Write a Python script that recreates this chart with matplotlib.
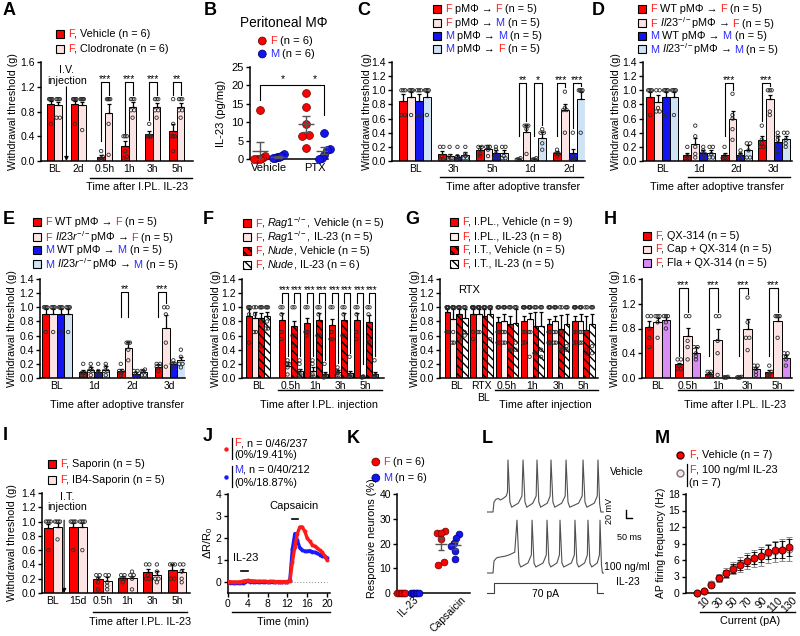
import numpy as np
import matplotlib
matplotlib.use('Agg')
import matplotlib.pyplot as plt
from matplotlib.lines import Line2D
from matplotlib.patches import Rectangle, Circle
from matplotlib.offsetbox import TextArea, HPacker, DrawingArea, AnnotationBbox

plt.rcParams['font.family'] = ['Liberation Sans', 'DejaVu Sans']
plt.rcParams['mathtext.fontset'] = 'custom'
plt.rcParams['mathtext.rm'] = 'Liberation Sans'
plt.rcParams['mathtext.it'] = 'Liberation Sans:italic'
plt.rcParams['mathtext.bf'] = 'Liberation Sans:bold'
plt.rcParams['axes.linewidth'] = 1.1
plt.rcParams['hatch.linewidth'] = 1.0

# ---------------- data ----------------
# A: clodronate
a_groups = ['BL', '2d', '0.5h', '1h', '3h', '5h']
a_veh = [0.92, 0.92, 0.06, 0.24, 0.43, 0.49]
a_veh_sem = [0.05, 0.05, 0.03, 0.08, 0.05, 0.10]
a_clo = [0.90, 0.90, 0.78, 0.88, 0.88, 0.88]
a_clo_sem = [0.06, 0.06, 0.14, 0.07, 0.06, 0.06]
a_veh_pts = [[1, 1, 1, 1, 1, 0.6], [1, 1, 1, 1, 1, 0.6], [0.16, 0.07, 0.04, 0.04, 0.02, 0.02],
             [0.4, 0.4, 0.4, 0.16, 0.07, 0.04], [0.6, 0.4, 0.4, 0.4, 0.4, 0.4], [1, 0.6, 0.4, 0.4, 0.4, 0.16]]
a_clo_pts = [[1, 1, 1, 1, 0.7, 0.7], [1, 1, 1, 1, 1, 0.5], [1, 1, 1, 1, 0.6, 0.1],
             [1, 1, 1, 0.82, 0.82, 0.7], [1, 1, 1, 0.82, 0.82, 0.7], [1, 1, 1, 0.82, 0.82, 0.7]]
a_sig = [(2, 0, 1, '***'), (3, 0, 1, '***'), (4, 0, 1, '***'), (5, 0, 1, '**')]

# B: IL-23 in peritoneal macrophages
b_groups = ['Vehicle', 'PTX']
b_f = [[13.2, 0.8, 0.3, 0.1, 0.1, 0.0], [17.8, 14.0, 9.5, 6.5, 6.2, 2.9]]
b_m = [[0.3, 0.5, 0.6, 1.3, 0.8, 0.2], [7.0, 2.8, 2.5, 1.0, 0.3, 0.1]]
b_f_mean = [2.3, 9.5]
b_f_sem = [2.2, 2.2]
b_m_mean = [0.6, 2.3]
b_m_sem = [0.2, 1.0]

# C: adoptive transfer
c_groups = ['BL', '3h', '5h', '1d', '2d']
c_means = [[0.85, 0.10, 0.15, 0.02, 0.11],
           [0.91, 0.07, 0.17, 0.41, 0.72],
           [0.85, 0.06, 0.11, 0.02, 0.11],
           [0.91, 0.09, 0.11, 0.33, 0.87]]
c_sems = [[0.10, 0.04, 0.06, 0.01, 0.03],
          [0.06, 0.03, 0.06, 0.10, 0.08],
          [0.10, 0.03, 0.05, 0.01, 0.06],
          [0.06, 0.04, 0.05, 0.08, 0.10]]
c_pts = [[[1, 1, 1, 0.65, 0.65], [0.2, 0.2, 0.07, 0.02, 0.02], [0.2, 0.2, 0.16, 0.1, 0.07], [0.04, 0.02, 0.02, 0.02, 0.02], [0.16, 0.1, 0.1, 0.1, 0.07]],
         [[1, 1, 1, 1, 0.65], [0.2, 0.07, 0.04, 0.02, 0.02], [0.2, 0.2, 0.2, 0.16, 0.07], [0.5, 0.5, 0.5, 0.45, 0.1], [0.98, 0.75, 0.72, 0.72, 0.4]],
         [[1, 1, 1, 0.65, 0.65], [0.2, 0.07, 0.04, 0.02, 0.02], [0.2, 0.16, 0.1, 0.04, 0.04], [0.04, 0.02, 0.02, 0.02, 0.02], [0.4, 0.07, 0.04, 0.02, 0.02]],
         [[1, 1, 1, 1, 0.65], [0.2, 0.1, 0.07, 0.04, 0.04], [0.2, 0.2, 0.07, 0.04, 0.04], [0.45, 0.4, 0.4, 0.25, 0.16], [1, 1, 1, 1, 0.4]]]
c_sig = [(3, 0, 1, '**'), (3, 2, 3, '*'), (4, 0, 1, '***'), (4, 2, 3, '***')]

# D: Il23-/- macrophages
d_groups = ['BL', '1d', '2d', '3d']
d_means = [[0.91, 0.08, 0.08, 0.29],
           [0.83, 0.24, 0.59, 0.87],
           [0.91, 0.12, 0.08, 0.27],
           [0.91, 0.12, 0.15, 0.31]]
d_sems = [[0.07, 0.03, 0.04, 0.06],
          [0.10, 0.09, 0.12, 0.07],
          [0.07, 0.03, 0.04, 0.08],
          [0.07, 0.04, 0.08, 0.05]]
d_pts = [[[1, 1, 1, 1, 0.65], [0.2, 0.07, 0.04, 0.04, 0.04], [0.2, 0.07, 0.04, 0.04, 0.04], [0.5, 0.3, 0.25, 0.2, 0.2]],
         [[1, 1, 0.75, 0.7, 0.7], [0.5, 0.35, 0.2, 0.1, 0.05], [0.95, 0.65, 0.6, 0.45, 0.3], [1, 1, 1, 0.7, 0.65]],
         [[1, 1, 1, 1, 0.65], [0.2, 0.15, 0.1, 0.1, 0.05], [0.15, 0.1, 0.07, 0.04, 0.04], [0.4, 0.35, 0.3, 0.2, 0.1]],
         [[1, 1, 1, 1, 0.65], [0.2, 0.2, 0.1, 0.05, 0.05], [0.25, 0.25, 0.15, 0.05, 0.05], [0.4, 0.4, 0.3, 0.25, 0.2]]]
d_sig = [(2, 0, 1, '***'), (3, 0, 1, '***')]

# E: Il23r-/- macrophages
e_groups = ['BL', '1d', '2d', '3d']
e_means = [[0.91, 0.08, 0.10, 0.16],
           [0.91, 0.12, 0.43, 0.71],
           [0.91, 0.09, 0.06, 0.20],
           [0.91, 0.12, 0.08, 0.25]]
e_sems = [[0.06, 0.03, 0.03, 0.04],
          [0.06, 0.04, 0.08, 0.18],
          [0.06, 0.03, 0.03, 0.03],
          [0.06, 0.05, 0.03, 0.05]]
e_pts = [[[1, 1, 1, 1, 0.65], [0.2, 0.07, 0.07, 0.04, 0.04], [0.2, 0.1, 0.1, 0.07, 0.04], [0.2, 0.2, 0.16, 0.16, 0.1]],
         [[1, 1, 1, 1, 0.65], [0.2, 0.14, 0.1, 0.1, 0.04], [0.5, 0.5, 0.5, 0.4, 0.25], [1, 1, 0.9, 0.5, 0.16]],
         [[1, 1, 1, 1, 0.65], [0.2, 0.1, 0.07, 0.04, 0.04], [0.1, 0.1, 0.07, 0.02, 0.02], [0.25, 0.2, 0.2, 0.2, 0.16]],
         [[1, 1, 1, 1, 0.65], [0.2, 0.16, 0.1, 0.1, 0.04], [0.12, 0.1, 0.1, 0.04, 0.04], [0.4, 0.3, 0.2, 0.2, 0.15]]]
e_sig = [(2, 0, 1, '**'), (3, 0, 1, '***')]

# F: Rag1-/- and nude mice
f_groups = ['BL', '0.5h', '1h', '3h', '5h']
f_means = [[0.88, 0.82, 0.78, 0.75, 0.82],
           [0.85, 0.17, 0.10, 0.08, 0.01],
           [0.85, 0.73, 0.82, 0.82, 0.79],
           [0.87, 0.10, 0.05, 0.07, 0.06]]
f_sems = [[0.09, 0.10, 0.07, 0.09, 0.10],
          [0.09, 0.06, 0.05, 0.03, 0.005],
          [0.07, 0.07, 0.10, 0.10, 0.10],
          [0.07, 0.03, 0.03, 0.03, 0.03]]
f_pts = [[[1, 1, 1, 0.9, 0.5], [1, 1, 0.9, 0.65, 0.55], [1, 1, 0.65, 0.65, 0.6], [1, 1, 0.65, 0.55, 0.55], [1, 1, 0.9, 0.65, 0.55]],
         [[1, 1, 0.9, 0.65, 0.65], [0.25, 0.2, 0.2, 0.15, 0.05], [0.25, 0.2, 0.05, 0.02, 0.02], [0.15, 0.1, 0.07, 0.04, 0.04], [0.02, 0.02, 0.01, 0.01, 0.01]],
         [[1, 1, 1, 0.8, 0.45], [1, 1, 0.6, 0.6, 0.45], [1, 1, 0.9, 0.6, 0.6], [1, 1, 0.9, 0.6, 0.6], [1, 1, 0.9, 0.55, 0.5]],
         [[1, 1, 1, 0.8, 0.7, 0.7], [0.25, 0.2, 0.1, 0.05, 0.04, 0.02], [0.2, 0.04, 0.02, 0.02, 0.01, 0.01], [0.3, 0.04, 0.02, 0.02, 0.02, 0.02], [0.25, 0.04, 0.02, 0.02, 0.02, 0.02]]]
f_sig = [(g, i, i + 1, '***') for g in range(1, 5) for i in (0, 2)]

# G: RTX
g_groups = ['BL', 'RTX', '0.5h', '1h', '3h', '5h']
g_means = [[0.94, 0.91, 0.79, 0.81, 0.76, 0.81],
           [0.84, 0.91, 0.80, 0.84, 0.80, 0.80],
           [0.91, 0.87, 0.76, 0.74, 0.69, 0.68],
           [0.85, 0.91, 0.78, 0.74, 0.77, 0.76]]
g_sems = [[0.04, 0.06, 0.07, 0.07, 0.07, 0.07],
          [0.13, 0.07, 0.10, 0.08, 0.08, 0.10],
          [0.07, 0.11, 0.12, 0.20, 0.20, 0.20],
          [0.13, 0.06, 0.20, 0.20, 0.13, 0.15]]
g_pts = [[[1, 1, 1, 1, 1, 1, 1, 0.65, 0.65], [1, 1, 1, 1, 1, 1, 1, 0.65, 0.55], [1, 1, 1, 1, 0.65, 0.65, 0.65, 0.5, 0.5],
          [1, 1, 1, 1, 1, 0.65, 0.65, 0.5, 0.5], [1, 1, 1, 1, 0.65, 0.65, 0.5, 0.5, 0.5], [1, 1, 1, 1, 1, 0.65, 0.65, 0.5, 0.5]],
         [[1, 1, 1, 1, 1, 0.65, 0.5, 0.5], [1, 1, 1, 1, 1, 1, 0.65, 0.65], [1, 1, 1, 1, 0.65, 0.65, 0.5, 0.5],
          [1, 1, 1, 1, 1, 0.65, 0.65, 0.3], [1, 1, 1, 1, 0.65, 0.65, 0.5, 0.5], [1, 1, 1, 1, 0.65, 0.65, 0.5, 0.5]],
         [[1, 1, 1, 1, 0.55], [1, 1, 1, 1, 0.4], [1, 1, 1, 0.4, 0.4], [1, 1, 1, 0.35, 0.35], [1, 1, 0.65, 0.4, 0.4], [1, 1, 0.65, 0.4, 0.35]],
         [[1, 1, 1, 0.65, 0.6], [1, 1, 1, 1, 0.55], [1, 1, 1, 0.4, 0.5], [1, 1, 1, 0.4, 0.3], [1, 1, 1, 0.45, 0.4], [1, 1, 1, 0.45, 0.35]]]

# H: QX-314
h_groups = ['BL', '0.5h', '1h', '3h', '5h']
h_means = [[0.82, 0.22, 0.06, 0.01, 0.09],
           [0.91, 0.68, 0.61, 0.80, 0.92],
           [0.93, 0.41, 0.01, 0.14, 0.33]]
h_sems = [[0.10, 0.03, 0.03, 0.005, 0.04],
          [0.06, 0.13, 0.18, 0.15, 0.06],
          [0.05, 0.09, 0.005, 0.04, 0.04]]
h_pts = [[[1, 1, 0.8, 0.65, 0.5], [0.3, 0.3, 0.2, 0.15, 0.15], [0.1, 0.1, 0.04, 0.02, 0.02], [0.02, 0.01, 0.01, 0.01, 0.01], [0.2, 0.1, 0.07, 0.04, 0.04]],
         [[1, 1, 1, 0.9, 0.65], [1, 1, 0.6, 0.5, 0.3], [1, 1, 0.6, 0.4, 0.05], [1.3, 0.9, 0.65, 0.65, 0.45], [1, 1, 1, 1, 0.65]],
         [[1, 1, 1, 0.9, 0.8], [0.5, 0.5, 0.4, 0.35, 0.3], [0.02, 0.01, 0.01, 0.01, 0.01], [0.2, 0.2, 0.15, 0.1, 0.05], [0.4, 0.4, 0.35, 0.3, 0.2]]]
h_sig = [(g, 0, 1, '***') for g in range(1, 5)]

# I: IB4-saporin
i_groups = ['BL', '15d', '0.5h', '1h', '3h', '5h']
i_means = [[0.91, 0.92, 0.20, 0.21, 0.29, 0.32],
           [0.93, 0.92, 0.17, 0.21, 0.25, 0.29]]
i_sems = [[0.06, 0.06, 0.03, 0.03, 0.05, 0.08],
          [0.05, 0.06, 0.05, 0.03, 0.06, 0.05]]
i_pts = [[[1, 1, 1, 1, 0.6], [1, 1, 1, 1, 0.6], [0.25, 0.25, 0.2, 0.15, 0.05], [0.25, 0.25, 0.2, 0.2, 0.15], [0.4, 0.4, 0.25, 0.2, 0.2], [0.4, 0.4, 0.4, 0.2, 0.2]],
         [[1, 1, 1, 1, 0.75], [1, 1, 1, 1, 0.6], [0.25, 0.25, 0.15, 0.1, 0.05], [0.3, 0.25, 0.25, 0.2, 0.05], [0.4, 0.3, 0.2, 0.2, 0.15], [0.4, 0.4, 0.3, 0.2, 0.15]]]

# J: calcium imaging traces
j_time = [0, 0.5, 1, 1.5, 2, 2.5, 3, 3.5, 4, 4.5, 5, 5.5, 6, 6.5, 7, 7.5, 8, 8.5, 9, 9.5, 10,
          10.5, 11, 11.5, 12, 12.5, 13, 13.5, 14, 14.5, 15, 15.5, 16, 16.5, 17, 17.5, 18, 18.5, 19, 19.5, 20]
j_f = [0.02, 0.01, 0.00, 0.00, 0.00, 0.01, 0.03, 0.06, 0.07, 0.06, 0.05, 0.04, 0.03, 0.03, 0.03, 0.03, 0.02,
       0.03, 0.03, 0.02, 0.02, 0.02, 0.02, 0.02, 0.02,
       0.05, 0.90, 1.60, 2.20, 2.50, 2.50, 2.30, 2.00, 1.85, 1.70, 1.62, 1.55, 1.45, 1.35, 1.20, 1.00]
j_m = [-0.02, -0.03, -0.04, -0.05, -0.06, -0.05, -0.03, 0.02, 0.03, 0.02, 0.01, 0.00, 0.00, 0.00, 0.00, 0.00,
       0.00, 0.00, 0.00, 0.00, 0.00, 0.00, 0.00, 0.00, 0.00,
       0.10, 1.50, 2.20, 1.90, 1.55, 1.45, 1.40, 1.40, 1.42, 1.38, 1.35, 1.30, 1.25, 1.20, 1.15, 1.10]

# K: responsive neurons
k_groups = ['IL-23', 'Capsaicin']
k_f = [[0, 0, 0, 0, 0, 0], [25.2, 24.4, 24.4, 21.7, 11.3, 12.7]]
k_m = [[0, 0, 0, 0, 0, 0], [23.8, 22.1, 20.1, 19.0, 16.8, 13.7]]
k_f_mean = [0, 19.9]
k_f_sem = [0, 2.5]
k_m_mean = [0, 19.3]
k_m_sem = [0, 1.5]

# L: example traces (ms, mV) and current step (ms, pA)
l_veh_t = [0, 50, 58, 75, 95, 110, 130, 160, 170, 174, 190, 205, 260, 290, 299, 315, 330, 380, 408, 415, 430, 445,
           500, 524, 531, 547, 562, 620, 649, 656, 672, 687, 760, 790, 797, 813, 828, 890, 915, 921, 935, 945, 965]
l_veh_v = [-60, -60, -35, -28, -26, -30, -27, -20, -10, 70, -35, -48, -38, -20, 70, -35, -48, -38, -20, 70, -35, -48,
           -38, -20, 70, -35, -48, -38, -20, 70, -35, -48, -38, -20, 70, -35, -48, -38, -20, 70, -40, -60, -60]
l_il_t = [0, 50, 58, 80, 110, 150, 190, 230, 249, 265, 280, 340, 368, 374, 390, 405, 465, 492, 498, 514, 529, 580,
          601, 606, 622, 637, 700, 725, 730, 746, 761, 810, 833, 838, 854, 869, 915, 933, 938, 950, 958, 965]
l_il_v = [-60, -60, -30, -22, -20, -18, -14, -8, 72, -35, -45, -35, -15, 72, -35, -45, -35, -15, 72, -35, -45, -35,
          -15, 72, -35, -45, -35, -15, 72, -35, -45, -35, -15, 72, -35, -45, -35, -15, 72, -40, -60, -60]
l_step_t = [0, 58, 58, 912, 912, 965]
l_step_i = [0, 0, 70, 70, 0, 0]

# M: AP firing frequency
m_current = [0, 10, 20, 30, 40, 50, 60, 70, 80, 90, 100, 110, 120, 130]
m_veh = [0, 0.3, 1.5, 2.7, 3.6, 4.4, 5.1, 5.9, 6.4, 6.8, 7.4, 7.8, 7.9, 8.3]
m_veh_sem = [0, 0.15, 0.3, 0.5, 0.6, 0.8, 0.9, 1.0, 1.1, 1.2, 1.3, 1.4, 1.5, 1.6]
m_il = [0, 0.4, 1.6, 2.7, 3.7, 4.5, 5.2, 5.8, 6.3, 6.7, 7.2, 7.6, 7.8, 8.0]
m_il_sem = [0, 0.3, 0.5, 0.7, 0.9, 1.1, 1.3, 1.5, 1.6, 1.7, 1.8, 1.9, 2.0, 2.1]

# ---------------- styling ----------------
RED = '#ff0000'
PINK = '#fde4e4'
BLUE = '#1414f0'
LBLUE = '#cfe3f5'
VIOLET = '#d98cf2'
TR = '#ff1f1f'
TB = '#2a2aff'
HATCH = '\\\\\\\\'

W, H = 800, 636
fig = plt.figure(figsize=(8, 6.36), dpi=100)


def add_ax(l, t, r, b):
    return fig.add_axes([l / W, 1 - b / H, (r - l) / W, (b - t) / H])


def ftext(x, y, s, **kw):
    return fig.text(x / W, 1 - y / H, s, **kw)


def fline(xs, ys, **kw):
    kw.setdefault('color', 'k')
    kw.setdefault('lw', 1.0)
    fig.add_artist(Line2D([x / W for x in xs], [1 - y / H for y in ys], **kw))


def style(ax):
    for s in ['top', 'right']:
        ax.spines[s].set_visible(False)
    ax.tick_params(axis='both', labelsize=7.5, width=1.0, length=3, pad=1.5)


def spread(vals, center, width, dx, dy):
    vals = np.asarray(vals, float)
    xs = np.full(len(vals), float(center))
    order = np.argsort(vals)
    clusters = [[order[0]]]
    for i in order[1:]:
        if vals[i] - vals[clusters[-1][-1]] < dy:
            clusters[-1].append(i)
        else:
            clusters.append([i])
    for c in clusters:
        k = len(c)
        if k > 1:
            step = min(dx, max(width - dx, 0) / (k - 1))
            for j, i in enumerate(c):
                xs[i] = center + (j - (k - 1) / 2) * step
    return xs


def bar_panel(box, groups, pos, xlim, ylim, ystep, means, sems, pts, styles, bw, ylx):
    ax = add_ax(*box)
    l, t, r, b = box
    pxx = (r - l) / (xlim[1] - xlim[0])
    pxy = (b - t) / (ylim[1] - ylim[0])
    pos = np.asarray(pos, float)
    n = len(means)
    offs = (np.arange(n) - (n - 1) / 2) * bw
    for s in range(n):
        fc, hatch = styles[s]
        xs = pos + offs[s]
        ax.bar(xs, means[s], bw, color=fc, edgecolor='k', linewidth=0.7, hatch=hatch, zorder=2)
        ax.errorbar(xs, means[s], yerr=[np.zeros(len(xs)), sems[s]], fmt='none', ecolor='k',
                    elinewidth=0.9, capsize=1.6, capthick=0.9, zorder=3)
        for g in range(len(xs)):
            px_ = spread(pts[s][g], xs[g], bw * 0.9, 3.4 / pxx, 2.0 / pxy)
            ax.scatter(px_, pts[s][g], s=6, facecolors='none', edgecolors='#2a2a2a',
                       linewidths=0.6, zorder=4, clip_on=False)
    ax.set_xlim(xlim)
    ax.set_ylim(ylim)
    ticks = np.arange(0, ylim[1] + 1e-9, ystep)
    ax.set_yticks(ticks)
    ax.set_yticklabels(['%.1f' % v for v in ticks])
    ax.set_xticks(pos)
    ax.set_xticklabels(groups)
    style(ax)
    ax.tick_params(axis='x', length=0, pad=2.5)
    ftext(ylx, (t + b) / 2, 'Withdrawal threshold (g)', rotation=90, ha='center', va='center', fontsize=7.7)
    return ax, pos, offs


def brackets(ax, pos, offs, means, sems, pts, specs, top, lmax, gap=0.06, fs=7.5):
    for g, i, j, txt in specs:
        xi = pos[g] + offs[i]
        xj = pos[g] + offs[j]

        def leg(s):
            hi = max(means[s][g] + sems[s][g], max(pts[s][g]))
            return max(hi + gap, top - lmax)
        ax.plot([xi, xi, xj, xj], [leg(i), top, top, leg(j)], color='k', lw=0.8, zorder=5, clip_on=False)
        ax.annotate(txt, ((xi + xj) / 2, top), xytext=(0, -1.5), textcoords='offset points',
                    ha='center', va='bottom', fontsize=fs)


def text_row(parts, fs):
    # leading spaces are turned into fixed gaps so the pieces join cleanly
    kids = []
    for s, c in parts:
        if s.startswith(' '):
            kids.append(DrawingArea(0.3 * fs, 0.1, 0, 0))
            s = s.lstrip(' ')
        kids.append(TextArea(s, textprops=dict(color=c, fontsize=fs)))
    return HPacker(children=kids, sep=0, pad=0, align='baseline')


def ctext(x, yc, parts, fs=7.8):
    fig.add_artist(AnnotationBbox(text_row(parts, fs), (x, H - yc), xycoords='figure pixels',
                                  box_alignment=(0, 0.5), frameon=False, pad=0))


def legend_rows(x, ys, rows, fs=7.8):
    for yc, (sym, parts) in zip(ys, rows):
        da = DrawingArea(6.2, 6.2, 0, 0)
        if sym[0] == 'sq':
            da.add_artist(Rectangle((0.35, 0.35), 5.5, 5.5, facecolor=sym[1], edgecolor='k',
                                    linewidth=0.8, hatch=sym[2]))
        else:
            da.add_artist(Circle((3.1, 3.1), 2.8, facecolor=sym[1], edgecolor=sym[2], linewidth=0.6))
        row = HPacker(children=[da, text_row(parts, fs)], sep=2.2, pad=0, align='center')
        fig.add_artist(AnnotationBbox(row, (x, H - yc), xycoords='figure pixels', box_alignment=(0, 0.5),
                                      frameon=False, pad=0))


def letter(x, y, s):
    ftext(x, y, s, fontsize=13, fontweight='bold', ha='left', va='top')


def xtitle(x, y, s):
    ftext(x, y, s, fontsize=7.8, ha='center', va='center')


four = [(RED, None), (PINK, None), (BLUE, None), (LBLUE, None)]

# ---------------- A ----------------
boxA = (41, 62, 193, 161)
axA, pA, oA = bar_panel(boxA, a_groups, [0, 1, 2.1, 3.1, 4.1, 5.1], (-0.56, 5.77), (0, 1.6), 0.4,
                        [a_veh, a_clo], [a_veh_sem, a_clo_sem], [a_veh_pts, a_clo_pts],
                        [(RED, None), (PINK, None)], 0.31, 13)
brackets(axA, pA, oA, [a_veh, a_clo], [a_veh_sem, a_clo_sem], [a_veh_pts, a_clo_pts], a_sig, 1.28, 0.95)
axA.annotate('', xy=(0.5, 0.0), xytext=(0.5, 1.2),
             arrowprops=dict(arrowstyle='-|>', lw=0.8, color='k', mutation_scale=6, shrinkA=0, shrinkB=0))
axA.text(0.52, 1.38, 'I.V.\ninjection', ha='center', va='center', fontsize=7.7, linespacing=1.05)
fline([90, 192], [178, 178])
xtitle(137, 187, 'Time after I.PL. IL-23')
legend_rows(56, [34, 49], [(('sq', RED, None), [('F', TR), (', Vehicle (n = 6)', 'k')]),
                           (('sq', PINK, None), [('F', TR), (', Clodronate (n = 6)', 'k')])])
letter(3, 2, 'A')

# ---------------- B ----------------
boxB = (250, 67, 328, 159)
axB = add_ax(*boxB)
bxl, byl = (-0.41, 1.28), (0, 25)
pxxB = (boxB[2] - boxB[0]) / (bxl[1] - bxl[0])
pxyB = (boxB[3] - boxB[1]) / (byl[1] - byl[0])
for g in range(2):
    for vals, mean, sem, off, fc, ec in [(b_f[g], b_f_mean[g], b_f_sem[g], -0.2, RED, '#700000'),
                                         (b_m[g], b_m_mean[g], b_m_sem[g], 0.2, BLUE, '#000070')]:
        c = g + off
        xs = spread(vals, c, 18 / pxxB, 7 / pxxB, 6 / pxyB)
        axB.scatter(xs, vals, s=32, color=fc, edgecolors=ec, linewidths=0.5, zorder=3, clip_on=False)
        axB.hlines(mean, c - 8 / pxxB, c + 8 / pxxB, color='#555555', lw=1.0, zorder=4)
        axB.errorbar(c, mean, yerr=sem, fmt='none', ecolor='#555555', elinewidth=1.0, capsize=3, zorder=4)
axB.plot([-0.2, -0.2, 1.2, 1.2], [16, 20.1, 20.1, 12], color='k', lw=0.8, clip_on=False)
axB.text(0.3, 20.3, '*', ha='center', va='bottom', fontsize=7.5)
axB.text(1.0, 20.3, '*', ha='center', va='bottom', fontsize=7.5)
axB.set_xlim(bxl)
axB.set_ylim(byl)
axB.set_yticks([0, 5, 10, 15, 20, 25])
axB.set_xticks([0, 1])
axB.set_xticklabels(b_groups)
style(axB)
axB.tick_params(axis='x', length=0, pad=3)
axB.tick_params(axis='both', labelsize=8)
ftext(221, 113, 'IL-23 (pg/mg)', rotation=90, ha='center', va='center', fontsize=8)
ftext(284, 23, 'Peritoneal MΦ', ha='center', va='center', fontsize=9.8)
legend_rows(258, [41, 54], [(('dot', RED, '#700000'), [('F', TR), (' (n = 6)', 'k')]),
                            (('dot', BLUE, '#000070'), [('M', TB), (' (n = 6)', 'k')])], fs=8)
letter(204, 2, 'B')

# ---------------- C ----------------
boxC = (392, 62, 585, 161)
axC, pC, oC = bar_panel(boxC, c_groups, [0, 1, 2, 3, 4], (-0.6, 4.42), (0, 1.4), 0.2,
                        c_means, c_sems, c_pts, four, 0.205, 367)
brackets(axC, pC, oC, c_means, c_sems, c_pts, c_sig, 1.1, 0.75)
fline([440, 583], [177, 177])
xtitle(513, 187, 'Time after adoptive transfer')
legend_rows(433, [9.3, 22.7, 36, 49.3], [
    (('sq', RED, None), [('F', TR), (' pMΦ →', 'k'), (' F', TR), (' (n = 5)', 'k')]),
    (('sq', PINK, None), [('F', TR), (' pMΦ →', 'k'), (' M', TB), (' (n = 5)', 'k')]),
    (('sq', BLUE, None), [('M', TB), (' pMΦ →', 'k'), (' M', TB), (' (n = 5)', 'k')]),
    (('sq', LBLUE, None), [('M', TB), (' pMΦ →', 'k'), (' F', TR), (' (n = 5)', 'k')])])
letter(357, 2, 'C')

# ---------------- D ----------------
boxD = (643, 62, 792, 161)
axD, pD, oD = bar_panel(boxD, d_groups, [0, 1, 2, 3], (-0.51, 3.49), (0, 1.4), 0.2,
                        d_means, d_sems, d_pts, four, 0.214, 616)
brackets(axD, pD, oD, d_means, d_sems, d_pts, d_sig, 1.1, 0.75)
fline([688, 790], [177, 177])
xtitle(717, 187, 'Time after adoptive transfer')
legend_rows(638, [9.3, 22.7, 36, 49.3], [
    (('sq', RED, None), [('F', TR), (' WT pMΦ →', 'k'), (' F', TR), (' (n = 5)', 'k')]),
    (('sq', PINK, None), [('F', TR), (r' $\mathit{Il23}^{-/-}$pMΦ →', 'k'), (' F', TR), (' (n = 5)', 'k')]),
    (('sq', BLUE, None), [('M', TB), (' WT pMΦ →', 'k'), (' M', TB), (' (n = 5)', 'k')]),
    (('sq', LBLUE, None), [('M', TB), (r' $\mathit{Il23}^{-/-}$pMΦ →', 'k'), (' M', TB), (' (n = 5)', 'k')])])
letter(592, 2, 'D')

# ---------------- E ----------------
boxE = (40, 279, 185, 378)
axE, pE, oE = bar_panel(boxE, e_groups, [0, 1, 2, 3], (-0.45, 3.41), (0, 1.4), 0.2,
                        e_means, e_sems, e_pts, four, 0.2, 12)
brackets(axE, pE, oE, e_means, e_sems, e_pts, e_sig, 1.22, 0.36)
xtitle(117, 405, 'Time after adoptive transfer')
legend_rows(33, [222.3, 236.7, 250, 264.3], [
    (('sq', RED, None), [('F', TR), (' WT pMΦ →', 'k'), (' F', TR), (' (n = 5)', 'k')]),
    (('sq', PINK, None), [('F', TR), (r' $\mathit{Il23r}^{-/-}$pMΦ →', 'k'), (' F', TR), (' (n = 5)', 'k')]),
    (('sq', BLUE, None), [('M', TB), (' WT pMΦ →', 'k'), (' M', TB), (' (n = 5)', 'k')]),
    (('sq', LBLUE, None), [('M', TB), (r' $\mathit{Il23r}^{-/-}$pMΦ →', 'k'), (' M', TB), (' (n = 5)', 'k')])])
letter(3, 211, 'E')

# ---------------- F ----------------
boxF = (242, 279, 384, 378)
stF = [(RED, None), (PINK, None), (RED, HATCH), ('white', HATCH)]
axF, pF, oF = bar_panel(boxF, f_groups, [0, 1.3, 2.3, 3.3, 4.3], (-0.64, 5.04), (0, 1.4), 0.2,
                        f_means, f_sems, f_pts, stF, 0.24, 216)
brackets(axF, pF, oF, f_means, f_sems, f_pts, f_sig, 1.2, 1.0, fs=7)
fline([278, 382], [390, 390])
xtitle(319, 405, 'Time after I.PL. injection')
legend_rows(243, [223, 237, 251, 265], [
    (('sq', RED, None), [('F', TR), (r', $\mathit{Rag1}^{-/-}$, Vehicle (n = 5)', 'k')]),
    (('sq', PINK, None), [('F', TR), (r', $\mathit{Rag1}^{-/-}$, IL-23 (n = 5)', 'k')]),
    (('sq', RED, HATCH), [('F', TR), (r', $\mathit{Nude}$, Vehicle (n = 5)', 'k')]),
    (('sq', 'white', HATCH), [('F', TR), (r', $\mathit{Nude}$, IL-23 (n = 6)', 'k')])])
letter(203, 211, 'F')

# ---------------- G ----------------
boxG = (440, 279, 598, 378)
stG = [(RED, None), ('#fff0f0', None), (RED, HATCH), ('white', HATCH)]
axG, pG, oG = bar_panel(boxG, g_groups, [0, 1, 2, 3, 4, 5], (-0.63, 5.57), (0, 1.4), 0.2,
                        g_means, g_sems, g_pts, stG, 0.225, 415)
axG.text(0.5, 1.25, 'RTX', ha='center', va='center', fontsize=8)
ftext(483, 398, 'BL', ha='center', va='center', fontsize=7.5)
fline([495, 598], [390, 390])
xtitle(545, 405, 'Time after injection')
legend_rows(450, [222, 236.5, 250, 264], [
    (('sq', RED, None), [('F', TR), (', I.PL., Vehicle (n = 9)', 'k')]),
    (('sq', '#fff0f0', None), [('F', TR), (', I.PL., IL-23 (n = 8)', 'k')]),
    (('sq', RED, HATCH), [('F', TR), (', I.T., Vehicle (n = 5)', 'k')]),
    (('sq', 'white', HATCH), [('F', TR), (', I.T., IL-23 (n = 5)', 'k')])])
letter(405, 211, 'G')

# ---------------- H ----------------
boxH = (642, 279, 792, 378)
stH = [(RED, None), (PINK, None), (VIOLET, None)]
axH, pH, oH = bar_panel(boxH, h_groups, [0, 1, 2, 3, 4], (-0.52, 4.48), (0, 1.6), 0.4,
                        h_means, h_sems, h_pts, stH, 0.277, 615)
brackets(axH, pH, oH, h_means, h_sems, h_pts, h_sig, 1.45, 1.1)
fline([678, 793], [390, 390])
xtitle(735, 405, 'Time after I.PL. IL-23')
legend_rows(643, [236, 249.5, 263], [
    (('sq', RED, None), [('F', TR), (', QX-314 (n = 5)', 'k')]),
    (('sq', PINK, None), [('F', TR), (', Cap + QX-314 (n = 5)', 'k')]),
    (('sq', VIOLET, None), [('F', TR), (', Fla + QX-314 (n = 5)', 'k')])])
letter(604, 211, 'H')

# ---------------- I ----------------
boxI = (42, 493, 190, 593)
axI, pI, oI = bar_panel(boxI, i_groups, [0, 1, 2, 3, 4, 5], (-0.44, 5.52), (0, 1.4), 0.2,
                        i_means, i_sems, i_pts, [(RED, None), (PINK, None)], 0.37, 12)
axI.annotate('', xy=(0.45, 0.0), xytext=(0.45, 1.02),
             arrowprops=dict(arrowstyle='-|>', lw=0.8, color='k', mutation_scale=6, shrinkA=0, shrinkB=0))
axI.text(0.56, 1.27, 'I.T.\ninjection', ha='center', va='center', fontsize=7.7, linespacing=1.05)
fline([93, 187], [612, 612])
xtitle(140, 622, 'Time after I.PL. IL-23')
legend_rows(48, [464, 480], [(('sq', RED, None), [('F', TR), (', Saporin (n = 5)', 'k')]),
                             (('sq', PINK, None), [('F', TR), (', IB4-Saporin (n = 5)', 'k')])])
letter(3, 427, 'I')

# ---------------- J ----------------
boxJ = (228, 494, 330, 593)
axJ = add_ax(*boxJ)
axJ.plot(j_time, j_m, color='#1a1aff', lw=2.4, marker='o', ms=1.8, zorder=2)
axJ.plot(j_time, j_f, color='#ff1a1a', lw=2.4, marker='o', ms=1.8, zorder=3)
axJ.plot([12.8, 20], [0, 0], ls=':', color='#999999', lw=0.8, zorder=1)
axJ.plot([2.6, 4.0], [0.5, 0.5], color='k', lw=1.2)
axJ.text(3.6, 1.1, 'IL-23', ha='center', va='center', fontsize=8)
axJ.plot([12.9, 14.1], [2.88, 2.88], color='k', lw=1.2)
axJ.text(13.3, 3.45, 'Capsaicin', ha='center', va='center', fontsize=8)
axJ.set_xlim(0, 20.6)
axJ.set_ylim(-0.5, 4)
axJ.set_xticks([0, 4, 8, 12, 16, 20])
axJ.set_yticks([0, 1, 2, 3, 4])
style(axJ)
fline([232, 330], [612, 612])
xtitle(283, 622, 'Time (min)')
ftext(208, 543, r'$\Delta$R/R$_0$', rotation=90, ha='center', va='center', fontsize=8)
fig.add_artist(Line2D([226 / W], [1 - 449 / H], marker='o', ms=2.2, color='#ff1a1a', ls='none'))
fig.add_artist(Line2D([226 / W], [1 - 477 / H], marker='o', ms=2.2, color='#1a1aff', ls='none'))
fline([232, 232], [438, 459], lw=0.9)
fline([232, 232], [466, 487], lw=0.9)
ctext(234, 443, [('F', TR), (', n = 0/46/237', 'k')])
ctext(234, 455.5, [('(0%/19.41%)', 'k')])
ctext(234, 470, [('M', TB), (', n = 0/40/212', 'k')])
ctext(234, 482.5, [('(0%/18.87%)', 'k')])
letter(203, 428, 'J')

# ---------------- K ----------------
boxK = (397, 494, 470, 593)
axK = add_ax(*boxK)
kxl, kyl = (-0.28, 1.55), (0, 40)
pxxK = (boxK[2] - boxK[0]) / (kxl[1] - kxl[0])
pxyK = (boxK[3] - boxK[1]) / (kyl[1] - kyl[0])
for g in range(2):
    for vals, mean, sem, off, fc, ec in [(k_f[g], k_f_mean[g], k_f_sem[g], -0.17, RED, '#700000'),
                                         (k_m[g], k_m_mean[g], k_m_sem[g], 0.17, BLUE, '#000070')]:
        c = g + off
        xs = spread(vals, c, 14 / pxxK, 6 / pxxK, 5 / pxyK)
        axK.scatter(xs, vals, s=24, color=fc, edgecolors=ec, linewidths=0.5, zorder=3, clip_on=False)
        if mean > 0:
            axK.hlines(mean, c - 6 / pxxK, c + 6 / pxxK, color='#555555', lw=1.0, zorder=4)
            axK.errorbar(c, mean, yerr=sem, fmt='none', ecolor='#555555', elinewidth=1.0, capsize=2.5, zorder=4)
axK.set_xlim(kxl)
axK.set_ylim(kyl)
axK.set_yticks([0, 10, 20, 30, 40])
axK.set_xticks([0, 1])
axK.set_xticklabels(k_groups, rotation=45, ha='center')
style(axK)
axK.tick_params(axis='x', length=0, pad=1)
ftext(372, 538, 'Responsive neurons (%)', rotation=90, ha='center', va='center', fontsize=7.8)
legend_rows(371.5, [462, 478], [(('dot', RED, '#700000'), [('F', TR), (' (n = 6)', 'k')]),
                                (('dot', BLUE, '#000070'), [('M', TB), (' (n = 6)', 'k')])])
letter(347, 430, 'K')

# ---------------- L ----------------
lax1 = add_ax(487, 455, 604, 520)
lax1.plot(l_veh_t, l_veh_v, color='#505050', lw=0.8)
lax1.set_xlim(0, 971)
lax1.set_ylim(-80, 82.5)
lax2 = add_ax(487, 515, 604, 580)
lax2.plot(l_il_t, l_il_v, color='#505050', lw=0.8)
lax2.set_xlim(0, 971)
lax2.set_ylim(-77.5, 85)
lax3 = add_ax(487, 578, 604, 598)
lax3.plot(l_step_t, l_step_i, color='#404040', lw=0.8)
lax3.set_xlim(0, 971)
lax3.set_ylim(-35, 105)
for a in (lax1, lax2, lax3):
    a.axis('off')
ftext(545, 594, '70 pA', ha='center', va='center', fontsize=7.5)
ftext(627, 472, 'Vehicle', ha='center', va='center', fontsize=7.5)
ftext(627, 567, '100 ng/ml', ha='center', va='center', fontsize=7.5)
ftext(628, 582, 'IL-23', ha='center', va='center', fontsize=7.5)
fline([626, 626, 632], [510, 518, 518], lw=1.0)
ftext(609, 511, '20 mV', rotation=90, ha='center', va='center', fontsize=6.5)
ftext(629, 537, '50 ms', ha='center', va='center', fontsize=6.5)
letter(482, 430, 'L')

# ---------------- M ----------------
boxM = (686, 494, 795, 593)
axM = add_ax(*boxM)
axM.errorbar(m_current, m_il, yerr=m_il_sem, fmt='o', ms=5, mfc=PINK, mec='#777777', mew=0.7,
             ecolor='#888888', elinewidth=0.9, capsize=2.2, capthick=0.9, zorder=2, clip_on=False)
axM.errorbar(m_current, m_veh, yerr=m_veh_sem, fmt='o', ms=5, mfc=RED, mec='#400000', mew=0.6,
             ecolor='k', elinewidth=0.9, capsize=2.2, capthick=0.9, zorder=3, clip_on=False)
axM.set_xlim(-16, 138)
axM.set_ylim(0, 18)
axM.set_yticks([0, 3, 6, 9, 12, 15, 18])
axM.set_xticks([10, 30, 50, 70, 90, 110, 130])
axM.set_xticklabels(['10', '30', '50', '70', '90', '110', '130'], rotation=45, ha='center')
style(axM)
axM.tick_params(axis='x', length=0, pad=1.5)
fline([700, 795], [612, 612])
xtitle(750, 621, 'Current (pA)')
ftext(661, 543, 'AP firing frequency (Hz)', rotation=90, ha='center', va='center', fontsize=7.5)
fig.add_artist(Line2D([680 / W], [1 - 455 / H], marker='o', ms=5, mfc=RED, mec='#400000', ls='none'))
fig.add_artist(Line2D([680 / W], [1 - 473 / H], marker='o', ms=5, mfc=PINK, mec='#777777', ls='none'))
fline([687, 687], [464, 486], lw=0.9)
ctext(689, 455, [('F', TR), (', Vehicle (n = 7)', 'k')])
ctext(689, 470, [('F', TR), (', 100 ng/ml IL-23', 'k')])
ctext(689, 483, [('(n = 7)', 'k')])
letter(655, 430, 'M')

fig.savefig('out.png', dpi=100)
